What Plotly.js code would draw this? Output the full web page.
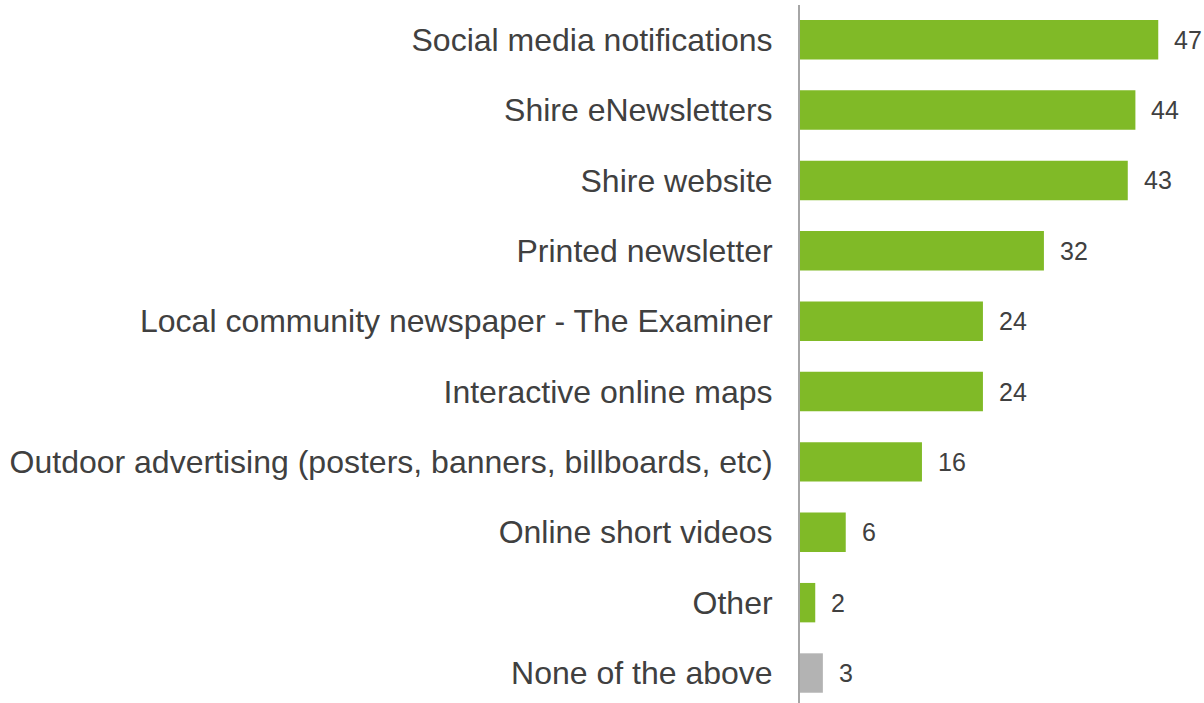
<!DOCTYPE html>
<html>
<head>
<meta charset="utf-8">
<script src="https://cdn.plot.ly/plotly-3.0.1.min.js"></script>
<style>
  html, body { margin: 0; padding: 0; background: #ffffff; }
  #chart { width: 1204px; height: 703px; }
</style>
</head>
<body>
<div id="chart"></div>
<script>
const categories = [
  "Social media notifications",
  "Shire eNewsletters",
  "Shire website",
  "Printed newsletter",
  "Local community newspaper - The Examiner",
  "Interactive online maps",
  "Outdoor advertising (posters, banners, billboards, etc)",
  "Online short videos",
  "Other",
  "None of the above"
];
const values = [47, 44, 43, 32, 24, 24, 16, 6, 2, 3];
const barColors = ["#80BA27", "#80BA27", "#80BA27", "#80BA27", "#80BA27",
                   "#80BA27", "#80BA27", "#80BA27", "#80BA27", "#B3B3B3"];

const fontFamily = "Liberation Sans, Arial, sans-serif";
const textColor = "#404040";

const trace = {
  type: "bar",
  orientation: "h",
  x: values,
  y: categories,
  marker: { color: barColors, line: { width: 0 } },
  hoverinfo: "none"
};

const annotations = categories.map((c, i) => ({
  x: values[i],
  y: c,
  xref: "x",
  yref: "y",
  text: String(values[i]),
  showarrow: false,
  xanchor: "left",
  yanchor: "middle",
  xshift: 14,
  font: { family: fontFamily, size: 25, color: textColor }
}));

const layout = {
  width: 1204,
  height: 703,
  margin: { l: 800, r: 0, t: 5, b: 0, pad: 0 },
  paper_bgcolor: "#ffffff",
  plot_bgcolor: "#ffffff",
  showlegend: false,
  bargap: 0.44,
  font: { family: fontFamily, color: textColor },
  xaxis: {
    range: [0, 53],
    showgrid: false,
    zeroline: false,
    showline: false,
    showticklabels: false,
    ticks: ""
  },
  yaxis: {
    type: "category",
    categoryorder: "array",
    categoryarray: categories,
    range: [9.426, -0.493],
    showgrid: false,
    zeroline: false,
    showline: true,
    linecolor: "#A6A6A6",
    linewidth: 2,
    ticks: "",
    ticklabelstandoff: 19,
    tickfont: { family: fontFamily, size: 32, color: textColor },
    automargin: false
  },
  annotations: annotations
};

Plotly.newPlot("chart", [trace], layout, { displayModeBar: false, staticPlot: true });
</script>
</body>
</html>
